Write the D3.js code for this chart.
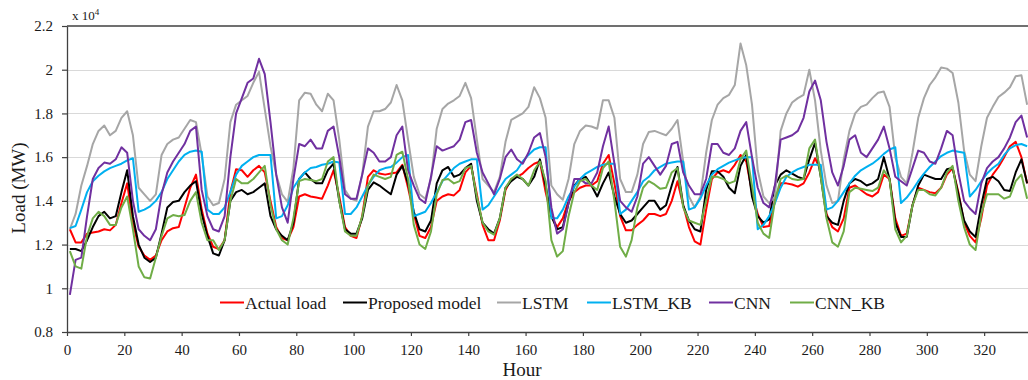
<!DOCTYPE html>
<html>
<head>
<meta charset="utf-8">
<script src="https://cdn.jsdelivr.net/npm/d3@7"></script>
<style>
  html, body { margin: 0; padding: 0; background: #fff; }
  svg { display: block; font-family: "Liberation Serif", "Times New Roman", serif; }
</style>
</head>
<body>
<svg id="load-viz" width="1028" height="380"></svg>
<script>
// sample hours: every second hour of the 14 days
const hours = d3.range(1, 336, 2);

// values in units of 10^4 MW, one row per day (12 samples)
const actualLoad = [
  1.27,1.21,1.21,1.25,1.255,1.26,1.27,1.265,1.29,1.39,1.48,1.30,
  1.19,1.15,1.13,1.15,1.22,1.26,1.275,1.28,1.37,1.46,1.52,1.36,
  1.25,1.19,1.18,1.22,1.44,1.545,1.54,1.51,1.54,1.56,1.53,1.40,
  1.28,1.23,1.22,1.28,1.42,1.43,1.42,1.415,1.41,1.47,1.54,1.42,
  1.28,1.24,1.23,1.33,1.51,1.54,1.525,1.52,1.525,1.53,1.565,1.46,
  1.34,1.24,1.23,1.28,1.40,1.42,1.43,1.425,1.45,1.53,1.56,1.43,
  1.29,1.22,1.22,1.31,1.45,1.50,1.51,1.525,1.55,1.57,1.58,1.44,
  1.33,1.28,1.32,1.40,1.44,1.46,1.47,1.47,1.49,1.57,1.61,1.48,
  1.33,1.265,1.265,1.29,1.31,1.34,1.34,1.33,1.34,1.40,1.49,1.38,
  1.28,1.215,1.20,1.36,1.50,1.53,1.54,1.53,1.565,1.61,1.58,1.44,
  1.34,1.28,1.285,1.40,1.48,1.48,1.475,1.465,1.48,1.53,1.595,1.54,
  1.34,1.28,1.26,1.32,1.46,1.47,1.45,1.43,1.42,1.44,1.52,1.50,
  1.32,1.24,1.25,1.38,1.46,1.45,1.44,1.435,1.46,1.52,1.55,1.44,
  1.30,1.24,1.21,1.32,1.47,1.52,1.555,1.60,1.65,1.67,1.60,1.48
];

const proposedModel = [
  1.18,1.18,1.17,1.22,1.28,1.33,1.35,1.32,1.33,1.44,1.54,1.33,
  1.20,1.14,1.12,1.14,1.25,1.37,1.395,1.40,1.44,1.47,1.49,1.34,
  1.24,1.16,1.15,1.22,1.40,1.44,1.45,1.43,1.44,1.46,1.48,1.33,
  1.27,1.24,1.22,1.30,1.50,1.53,1.50,1.48,1.48,1.54,1.57,1.40,
  1.27,1.25,1.25,1.32,1.45,1.485,1.47,1.45,1.43,1.52,1.56,1.48,
  1.35,1.27,1.26,1.31,1.48,1.54,1.555,1.51,1.52,1.55,1.57,1.40,
  1.30,1.27,1.25,1.32,1.46,1.49,1.51,1.50,1.47,1.51,1.59,1.47,
  1.33,1.27,1.28,1.39,1.47,1.50,1.51,1.47,1.42,1.48,1.53,1.42,
  1.34,1.30,1.31,1.34,1.37,1.40,1.40,1.36,1.38,1.47,1.555,1.38,
  1.31,1.27,1.26,1.45,1.535,1.535,1.51,1.46,1.435,1.56,1.61,1.42,
  1.33,1.30,1.315,1.47,1.52,1.54,1.525,1.51,1.50,1.59,1.665,1.51,
  1.33,1.30,1.29,1.40,1.48,1.50,1.49,1.47,1.48,1.50,1.60,1.50,
  1.30,1.235,1.235,1.38,1.47,1.52,1.51,1.50,1.50,1.545,1.55,1.43,
  1.31,1.26,1.235,1.38,1.50,1.51,1.49,1.45,1.445,1.53,1.59,1.48
];

const lstm = [
  1.27,1.34,1.47,1.56,1.66,1.72,1.745,1.70,1.72,1.78,1.81,1.70,
  1.46,1.43,1.40,1.43,1.61,1.66,1.68,1.69,1.73,1.77,1.76,1.61,
  1.42,1.38,1.39,1.50,1.76,1.84,1.86,1.88,1.94,1.99,1.82,1.65,
  1.52,1.43,1.395,1.55,1.86,1.895,1.89,1.84,1.81,1.89,1.86,1.68,
  1.45,1.41,1.40,1.52,1.74,1.81,1.81,1.82,1.85,1.93,1.86,1.68,
  1.51,1.43,1.41,1.50,1.73,1.82,1.845,1.86,1.88,1.94,1.87,1.68,
  1.50,1.47,1.44,1.51,1.67,1.77,1.785,1.80,1.83,1.92,1.87,1.78,
  1.47,1.43,1.405,1.50,1.66,1.72,1.745,1.74,1.73,1.86,1.86,1.78,
  1.50,1.44,1.44,1.52,1.66,1.715,1.72,1.71,1.70,1.73,1.77,1.58,
  1.42,1.37,1.42,1.62,1.77,1.84,1.87,1.885,1.93,2.12,2.02,1.84,
  1.54,1.42,1.39,1.42,1.72,1.80,1.85,1.87,1.885,2.00,1.86,1.63,
  1.47,1.39,1.40,1.59,1.72,1.80,1.83,1.84,1.87,1.895,1.90,1.83,
  1.60,1.51,1.48,1.62,1.78,1.87,1.93,1.965,2.01,2.005,1.985,1.85,
  1.63,1.52,1.49,1.65,1.78,1.83,1.875,1.895,1.92,1.97,1.975,1.84
];

const lstmKb = [
  1.275,1.285,1.36,1.44,1.49,1.515,1.535,1.55,1.56,1.57,1.585,1.595,
  1.35,1.36,1.375,1.40,1.44,1.50,1.54,1.58,1.61,1.625,1.63,1.625,
  1.36,1.34,1.34,1.37,1.44,1.52,1.56,1.58,1.60,1.61,1.61,1.61,
  1.32,1.33,1.38,1.46,1.50,1.53,1.55,1.555,1.565,1.57,1.58,1.575,
  1.34,1.34,1.37,1.42,1.47,1.51,1.54,1.55,1.555,1.575,1.60,1.61,
  1.33,1.34,1.35,1.39,1.44,1.49,1.52,1.55,1.57,1.58,1.59,1.59,
  1.36,1.38,1.42,1.46,1.50,1.52,1.54,1.58,1.61,1.635,1.645,1.645,
  1.32,1.32,1.36,1.42,1.465,1.50,1.525,1.54,1.555,1.565,1.57,1.57,
  1.34,1.36,1.40,1.44,1.49,1.51,1.54,1.555,1.57,1.575,1.58,1.58,
  1.36,1.37,1.41,1.47,1.52,1.545,1.56,1.575,1.585,1.595,1.60,1.60,
  1.27,1.29,1.33,1.39,1.46,1.51,1.53,1.545,1.555,1.565,1.565,1.565,
  1.36,1.37,1.40,1.44,1.48,1.515,1.54,1.555,1.57,1.59,1.615,1.635,
  1.645,1.39,1.415,1.45,1.49,1.525,1.555,1.58,1.605,1.62,1.63,1.625,
  1.62,1.42,1.45,1.49,1.525,1.55,1.57,1.61,1.64,1.655,1.66,1.65
];

const cnn = [
  0.97,1.13,1.14,1.33,1.50,1.55,1.575,1.57,1.59,1.645,1.62,1.40,
  1.27,1.24,1.22,1.27,1.43,1.53,1.58,1.62,1.66,1.72,1.74,1.45,
  1.33,1.27,1.26,1.33,1.60,1.80,1.87,1.94,1.96,2.05,1.98,1.76,
  1.52,1.37,1.30,1.50,1.66,1.65,1.68,1.64,1.64,1.72,1.74,1.60,
  1.43,1.41,1.41,1.52,1.64,1.62,1.58,1.58,1.60,1.70,1.74,1.54,
  1.47,1.41,1.39,1.51,1.65,1.63,1.64,1.65,1.68,1.76,1.77,1.62,
  1.53,1.48,1.43,1.50,1.60,1.635,1.59,1.57,1.62,1.69,1.71,1.60,
  1.37,1.25,1.27,1.39,1.50,1.50,1.48,1.48,1.53,1.65,1.74,1.57,
  1.40,1.37,1.35,1.42,1.57,1.60,1.56,1.52,1.56,1.66,1.67,1.53,
  1.47,1.43,1.43,1.50,1.66,1.66,1.62,1.61,1.64,1.72,1.76,1.60,
  1.46,1.39,1.37,1.47,1.68,1.69,1.70,1.72,1.78,1.90,1.95,1.86,
  1.67,1.53,1.47,1.56,1.68,1.70,1.62,1.60,1.64,1.68,1.74,1.64,
  1.51,1.49,1.47,1.55,1.63,1.62,1.58,1.57,1.64,1.72,1.70,1.53,
  1.40,1.365,1.34,1.48,1.55,1.58,1.60,1.64,1.69,1.76,1.79,1.69
];

const cnnKb = [
  1.17,1.10,1.09,1.24,1.32,1.35,1.33,1.29,1.29,1.37,1.42,1.27,
  1.10,1.05,1.045,1.14,1.24,1.32,1.335,1.33,1.335,1.40,1.44,1.30,
  1.22,1.22,1.175,1.22,1.40,1.50,1.48,1.48,1.50,1.53,1.56,1.38,
  1.27,1.22,1.20,1.32,1.49,1.50,1.495,1.49,1.50,1.58,1.60,1.40,
  1.26,1.24,1.24,1.33,1.47,1.52,1.51,1.50,1.51,1.61,1.625,1.50,
  1.29,1.20,1.18,1.26,1.43,1.495,1.50,1.48,1.49,1.55,1.56,1.42,
  1.30,1.26,1.245,1.32,1.46,1.50,1.52,1.50,1.47,1.54,1.58,1.49,
  1.22,1.145,1.17,1.33,1.44,1.49,1.50,1.47,1.45,1.55,1.58,1.40,
  1.19,1.145,1.22,1.37,1.46,1.49,1.475,1.455,1.46,1.53,1.55,1.37,
  1.31,1.30,1.29,1.40,1.51,1.51,1.50,1.48,1.49,1.59,1.63,1.47,
  1.30,1.25,1.23,1.40,1.50,1.515,1.50,1.495,1.50,1.64,1.68,1.51,
  1.32,1.21,1.19,1.26,1.44,1.46,1.455,1.45,1.445,1.46,1.54,1.50,
  1.27,1.21,1.24,1.38,1.45,1.45,1.43,1.425,1.46,1.53,1.56,1.40,
  1.28,1.20,1.175,1.34,1.43,1.43,1.43,1.41,1.42,1.49,1.52,1.41
];

const seriesNames = ['Actual load', 'Proposed model', 'LSTM', 'LSTM_KB', 'CNN', 'CNN_KB'];
const seriesValues = [actualLoad, proposedModel, lstm, lstmKb, cnn, cnnKb];
const seriesColors = ['#ff0000', '#000000', '#a6a6a6', '#00b0f0', '#7030a0', '#70ad47'];

const xTicks = [0, 20, 40, 60, 80, 100, 120, 140, 160, 180, 200, 220, 240, 260, 280, 300, 320];
const yTicks = [0.8, 1.0, 1.2, 1.4, 1.6, 1.8, 2.0, 2.2];

const drawLoadViz = (vizElement) => {
  const plot = { left: 67, right: 1030, top: 26, bottom: 332 };
  const axisColor = '#404040';

  const xScale = d3.scaleLinear().domain([0, 336]).range([plot.left, plot.right]);
  const yScale = d3.scaleLinear().domain([0.8, 2.2]).range([plot.bottom, plot.top]);

  const svg = d3.select(`#${vizElement}`);

  // light grid lines
  svg.append('g')
    .selectAll('line')
    .data(yTicks.filter((t) => t > 0.8 && t < 2.2))
    .join('line')
    .attr('x1', plot.left)
    .attr('x2', 1028)
    .attr('y1', (d) => Math.round(yScale(d)) + 0.5)
    .attr('y2', (d) => Math.round(yScale(d)) + 0.5)
    .attr('stroke', '#d9d9d9')
    .attr('stroke-width', 1.2);

  // top frame line
  svg.append('line')
    .attr('x1', plot.left)
    .attr('x2', 1028)
    .attr('y1', yScale(2.2))
    .attr('y2', yScale(2.2))
    .attr('stroke', axisColor)
    .attr('stroke-width', 1.3);

  // y axis
  const yAxis = svg.append('g')
    .attr('transform', `translate(${plot.left}, 0)`)
    .call(d3.axisLeft(yScale)
      .tickValues(yTicks)
      .tickSize(5)
      .tickSizeOuter(0)
      .tickPadding(9)
      .tickFormat((d) => `${+d.toFixed(1)}`));
  yAxis.select('.domain').attr('stroke', axisColor).attr('stroke-width', 1.3);
  yAxis.selectAll('.tick line').attr('stroke', axisColor).attr('stroke-width', 1.2);
  yAxis.selectAll('text')
    .attr('font-family', '"Liberation Serif", "Times New Roman", serif')
    .attr('font-size', 15)
    .attr('fill', '#1a1a1a');

  // x axis
  const xAxis = svg.append('g')
    .attr('transform', `translate(0, ${plot.bottom})`)
    .call(d3.axisBottom(xScale)
      .tickValues(xTicks)
      .tickSize(4)
      .tickSizeOuter(0)
      .tickPadding(8));
  xAxis.select('.domain')
    .attr('d', `M${plot.left},0.5H1028`)
    .attr('stroke', axisColor)
    .attr('stroke-width', 1.3);
  xAxis.selectAll('.tick line').attr('stroke', axisColor).attr('stroke-width', 1.2);
  xAxis.selectAll('text')
    .attr('font-family', '"Liberation Serif", "Times New Roman", serif')
    .attr('font-size', 15)
    .attr('fill', '#1a1a1a');

  // data lines, in legend order
  const line = d3.line()
    .x((d) => xScale(d[0]))
    .y((d) => yScale(d[1]));

  seriesValues.forEach((values, i) => {
    svg.append('path')
      .datum(hours.map((h, j) => [h, values[j]]))
      .attr('fill', 'none')
      .attr('stroke', seriesColors[i])
      .attr('stroke-width', 2)
      .attr('stroke-linejoin', 'round')
      .attr('d', line);
  });

  // legend
  const legendX = [220, 343, 497, 587, 709, 790];
  const legendY = 302.5;
  const legend = svg.append('g')
    .selectAll('g')
    .data(seriesNames)
    .join('g')
    .attr('transform', (d, i) => `translate(${legendX[i]}, ${legendY})`);
  legend.append('line')
    .attr('x1', 0)
    .attr('x2', 24)
    .attr('stroke', (d, i) => seriesColors[i])
    .attr('stroke-width', 2);
  legend.append('text')
    .attr('x', 25)
    .attr('y', 6)
    .attr('font-size', 17.5)
    .attr('fill', '#1a1a1a')
    .text((d) => d);

  // axis titles
  svg.append('text')
    .attr('x', 522)
    .attr('y', 376)
    .attr('text-anchor', 'middle')
    .attr('font-size', 19)
    .attr('fill', '#1a1a1a')
    .text('Hour');

  svg.append('text')
    .attr('transform', 'translate(25, 188) rotate(-90)')
    .attr('text-anchor', 'middle')
    .attr('font-size', 19)
    .attr('fill', '#1a1a1a')
    .text('Load (MW)');

  // exponent label
  const expLabel = svg.append('text')
    .attr('x', 72)
    .attr('y', 20)
    .attr('font-size', 13)
    .attr('fill', '#1a1a1a');
  expLabel.append('tspan').text('x 10');
  expLabel.append('tspan')
    .attr('font-size', 9)
    .attr('dy', -5)
    .text('4');
};

drawLoadViz('load-viz');
</script>
</body>
</html>
